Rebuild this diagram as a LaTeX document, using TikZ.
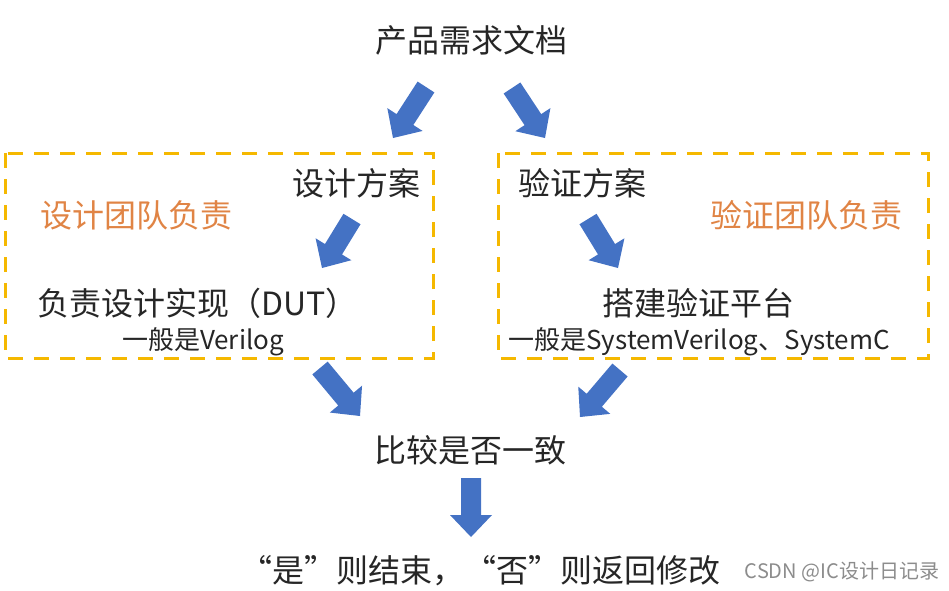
\documentclass[tikz,border=0pt]{standalone}
\usepackage{fontspec}
\setmainfont{Noto Sans CJK SC}
\usetikzlibrary{calc}
\definecolor{arrowblue}{HTML}{4472C4}
\definecolor{teamorange}{HTML}{E08445}
\definecolor{boxyellow}{HTML}{F5B800}
\newcommand\blkarr[2]{%
  \coordinate (hb) at ($(#2)!22pt!(#1)$);
  \fill[arrowblue] ($(#1)!10pt!90:(#2)$) -- ($(hb)!10pt!90:(#2)$) -- ($(hb)!21pt!90:(#2)$) -- (#2)
    -- ($(hb)!21pt!-90:(#2)$) -- ($(hb)!10pt!-90:(#2)$) -- ($(#1)!10pt!-90:(#2)$) -- cycle;}
\begin{document}
\begin{tikzpicture}[x=1pt,y=-1pt,
  big/.style={font=\fontsize{32}{32}\selectfont, inner sep=0pt, text height=28.2pt, text depth=3.8pt, text=black!85},
  small/.style={font=\fontsize{26}{26}\selectfont, inner sep=0pt, text height=22.9pt, text depth=3.1pt, text=black!85},
  team/.style={big, text=teamorange},
  ybox/.style={draw=boxyellow, line width=3pt, dash pattern=on 15pt off 11pt}]
\useasboundingbox (0,0) rectangle (949,590);
% boxes
\draw[ybox] (5,153) rectangle (433,358);
\draw[ybox] (498,153) rectangle (928,358);
% texts
\node[big] (req) at (471.5,40) {产品需求文档};
\node[big, anchor=east] (dplan) at (421,183) {设计方案};
\node[team, anchor=west] (dteam) at (40,215) {设计团队负责};
\node[big, anchor=west] (dut) at (37,303) {负责设计实现（DUT）};
\node[small] (dlang) at (203,340) {一般是Verilog};
\node[big, anchor=west] (vplan) at (518,183) {验证方案};
\node[team, anchor=east] (vteam) at (903,215) {验证团队负责};
\node[big] (tb) at (698,303) {搭建验证平台};
\node[small] (vlang) at (699,340) {一般是SystemVerilog、SystemC};
\node[big] (cmp) at (470,450) {比较是否一致};
\node[big] (res) at (480,570) {“是”则结束，“否”则返回修改};
\node[font=\fontsize{20}{20}\selectfont, text=black!45, inner sep=0pt] (wm) at (842,572) {CSDN @IC设计日记录};
% arrows
\coordinate (a1s) at (426,87);  \coordinate (a1e) at (393,138);
\coordinate (a2s) at (512,88);  \coordinate (a2e) at (545,138);
\coordinate (a3s) at (352,219); \coordinate (a3e) at (322,268);
\coordinate (a4s) at (588,219); \coordinate (a4e) at (618,268);
\coordinate (a5s) at (320,368); \coordinate (a5e) at (360,416);
\coordinate (a6s) at (620,370); \coordinate (a6e) at (580,417);
\coordinate (a7s) at (471,478); \coordinate (a7e) at (471,537);
\blkarr{a1s}{a1e}
\blkarr{a2s}{a2e}
\blkarr{a3s}{a3e}
\blkarr{a4s}{a4e}
\blkarr{a5s}{a5e}
\blkarr{a6s}{a6e}
\blkarr{a7s}{a7e}
\end{tikzpicture}
\end{document}
